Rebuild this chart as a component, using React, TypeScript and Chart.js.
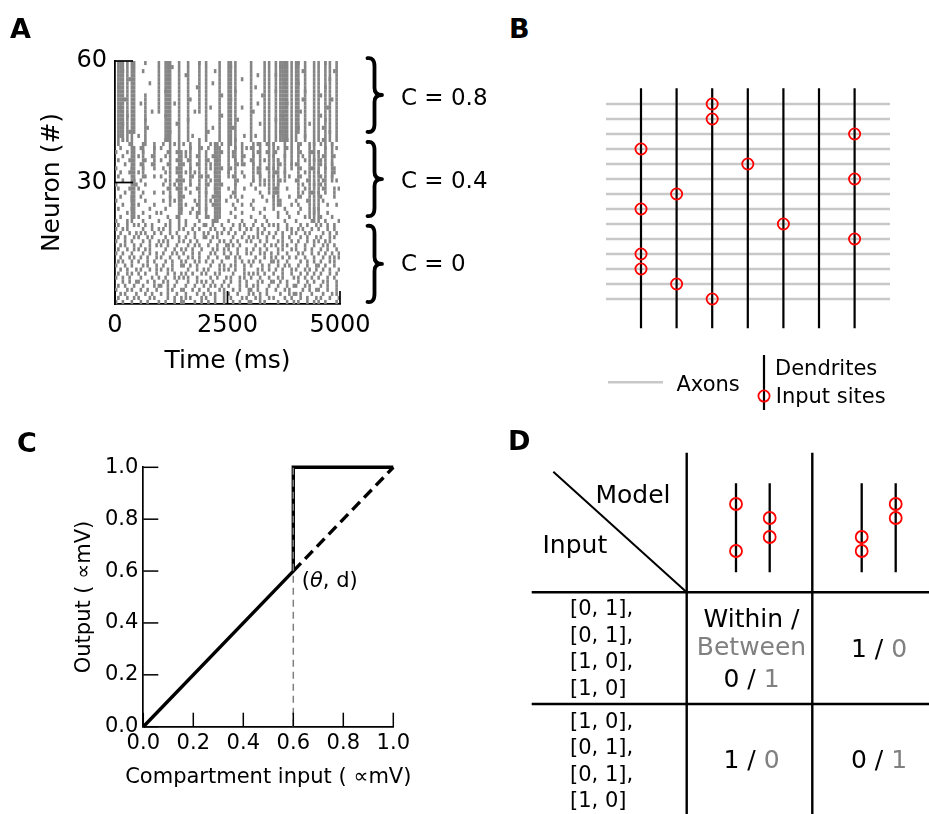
import React, { useEffect, useRef } from 'react';
import { Chart, registerables } from 'chart.js';

Chart.register(...registerables);

const FONT = "'DejaVu Sans', 'Liberation Sans', sans-serif";
Chart.defaults.font.family = FONT;
Chart.defaults.color = '#000';

const SPIKE_GRAY = '#858585';
const AXON_GRAY = '#c8c8c8';
const SITE_RED = '#ff0000';
const TEXT_GRAY = '#808080';

// ---------------- Panel A : raster ----------------
const timeTicks = [0, 2500, 5000];
const neuronTicks = [30, 60];
const timeMax = 5000;
const neuronMax = 60;
const binMs = 50;
const groupNames = ['C = 0', 'C = 0.4', 'C = 0.8'];
const groupBraceSpans = [[0.5, 19.3], [21.7, 40.0], [42.5, 60.7]];
const groupLabelBaselines = [8.2, 28.6, 49.1];

// correlated events: [time bin, first neuron, last neuron]
const stripesC04 = [
  [7, 20, 39], [8, 21, 38], [12, 31, 39], [17, 33, 39], [24, 25, 39], [28, 20, 39], [29, 22, 37],
  [33, 29, 39], [37, 22, 39], [40, 21, 36], [44, 20, 39], [45, 20, 39], [46, 23, 38], [50, 31, 39],
  [53, 26, 39], [56, 34, 39], [61, 30, 39], [64, 29, 39], [68, 28, 39], [70, 23, 39], [72, 24, 35],
  [75, 30, 39], [78, 33, 39], [81, 26, 39], [86, 21, 39], [88, 20, 39], [90, 20, 37], [93, 27, 39],
  [96, 30, 39],
];
const stripesC08 = [
  [1, 40, 59], [2, 41, 59], [3, 40, 59], [5, 40, 59], [7, 40, 59], [8, 42, 59], [13, 40, 50], [19, 47, 59],
  [22, 40, 59], [23, 40, 59], [24, 40, 59], [28, 40, 59], [32, 40, 59], [37, 47, 59], [40, 40, 59],
  [46, 40, 59], [50, 40, 59], [51, 40, 59], [53, 40, 59], [60, 40, 59], [66, 40, 59], [68, 40, 59],
  [71, 40, 59], [73, 40, 59], [74, 40, 59], [75, 40, 59], [76, 40, 59], [78, 40, 59], [80, 40, 59],
  [81, 42, 59], [84, 40, 59], [88, 40, 59], [90, 40, 59], [93, 40, 59], [95, 40, 59], [98, 40, 59],
];
// individual spikes, one string per neuron (0 = bottom), one char per 50 ms bin
const spikeRows = [
  "|..|...|.. .|..|....| ..|...|..| |....|..|. .|..|...|. ..|..|...| |...|.|... ..|...|..| .|...|..|. |..|....|.",
  ".|...|..|. |....|.|.. ...|..|..| .|.|....|. |...|...|. .|....|.|. ..|.|...|. |....|..|. ..|..|...| .|...|...|",
  "..|.|....| ...|..|... |..|...|.. .|....|..| ..|.|...|. |...|....| .|..|..|.. ...|...|.| |.|....|.. ..|...|.|.",
  "|....|.|.. .|..|...|. ...|.|...| |...|..|.. .|....|.|. ..|..|...| |..|...|.. .|...|.|.. ...|..|..| |...|...|.",
  ".|..|...|. ..|....|.| |..|..|... .|...|...| ..|.|..|.. |....|..|. .|.|....|. ..|...|..| |...|.|... .|..|...|.",
  "...|..|..| |...|..|.. .|.|...|.. ..|...|.|. |..|....|. .|...|..|. ...|.|...| |..|..|... .|...|..|. ..|.|...|.",
  "|..|..|... .|....|..| ..|...|.|. |.|...|... ..|..|...| .|...|.|.. |...|...|. ..|.|....| .|..|..|.. |...|..|..",
  ".|...|.|.. |..|....|. ...|..|..| .|..|...|. |...|.|... ..|....|.| .|.|..|... |...|...|. ..|..|..|. .|...|..|.",
  "..|..|...| .|...|..|. |..|.|.... ..|...|..| .|....|.|. |..|...|.. ...|.|..|. .|..|...|. |...|.|..| ..|..|...|",
  "|...|..|.. ..|.|...|. .|...|...| |..|..|... ..|...|.|. .|.|...|.. |....|..|. ..|..|.|.. .|...|...| |..|...|..",
  ".|.|...|.. |...|..|.. ..|..|...| .|...|.|.. |..|...|.. ...|..|..| .|..|....| |.|...|... ..|..|..|. .|...|.|..",
  "..|...|.|. .|..|...|. |...|...|. ..|.|..|.. .|...|...| |..|.|.... ..|...|..| .|..|..|.. |...|...|. ..|..|.|.|",
  "|..|...|.. ..|..|..|. .|...|.|.. |...|..|.. ..|.|...|. .|..|...|. |...|.|..| ..|...|... .|.|...|.. |..|..|..|",
  ".|...|..|. |..|.|.... ..|...|..| .|..|...|. ...|.|..|. |...|...|. .|..|..|.. ..|.|...|. |...|..|.. .|..|...|.",
  "..|.|...|. .|...|..|. |..|...|.. ..|..|.|.. .|...|...| |.|..|.... ..|...|..| .|..|.|... |...|...|. ..|.|..|..",
  "|...|..|.. ..|..|...| .|.|....|. |..|..|... ..|...|.|. .|..|...|. |...|..|.. ..|.|...|. .|...|..|. |..|.|....",
  ".|..|...|. |...|.|... ..|..|..|. .|...|...| |..|.|.... ..|...|..| .|.|...|.. |...|..|.. ..|..|...| .|...|.|..",
  "..|...|..| .|.|...|.. |...|..|.. ..|..|...| .|...|.|.. |..|...|.. ...|.|..|. .|..|...|. |...|.|... ..|..|..|.",
  "|..|.|.... ..|...|..| .|..|...|. |...|..|.. ..|.|...|. .|...|..|. |..|..|... ..|...|.|. .|.|...|.. |...|..|..",
  ".|...|..|. |..|..|... ..|.|...|. .|...|...| |..|...|.. ..|..|.|.. .|...|..|. |.|...|... ..|..|...| .|..|..|..",
  "|....|.... ..|......| ....|..... .|.....|.. ...|...... |.....|... ..|....|.. .....|.... |......|.. ...|.....|",
  "..|....... |....|.... ...|...|.. ......|... .|....|... ...|...... |.....|... ..|....|.. ....|..... .|....|...",
  ".....|.... ..|.....|. |......... ...|..|... ......|... .|....|... ....|..... ..|...|... .|......|. ....|.....",
  ".|.....|.. .....|.... ..|......| ....|..... |.....|... ...|...... .|....|... .....|.... ..|.....|. |.........",
  "...|...... |......|.. ....|..... .|....|... ...|...... ..|...|... |......... ...|....|. .|........ ....|...|.",
  "|......|.. ...|...... .|....|... .....|.... ..|......| ....|..... .|.....|.. ...|...... |....|.... ..|.......",
  "..|....|.. .|........ ....|...|. |......... ...|..|... .|....|... .....|.... |......|.. ..|....... .|.....|..",
  "....|..... ..|....|.. .|......|. ...|...... |....|.... ..|....... ....|...|. .|........ ...|...|.. |......|..",
  ".|....|... |......... ...|...|.. .|....|... ....|..... |......|.. ..|....... .|....|... ....|..... ..|....|.|",
  "|........| ...|...... .|....|... ...|...... .|.....|.. ...|...... |.....|... ..|....... ...|....|. .|........",
  "...|....|. .|........ ..|....|.. |......... ..|...|... ....|..... .|....|... ...|...... |....|.... ..|.....|.",
  ".|........ ...|...|.. |......... ....|...|. .|........ ..|....|.. ....|..... |......|.. ..|....... .|....|...",
  "..|...|... |......... ..|....|.. .|...|.... ....|..... |.....|... ...|...... .|...|.... ....|..... |......|..",
  "|......|.. ..|....... .|.....|.. ...|...... ..|....|.. .|........ ...|...|.. |......... ..|....|.. ...|...|..",
  "....|..... .|....|... ...|...... |.....|... ..|....... ....|..|.. .|........ ...|....|. |......... .|....|...",
  ".|....|... ...|...... |......|.. ..|....... .|...|.... ...|...... |.....|... ..|....... ....|...|. .|........",
  "...|...... |.....|... ..|....... .|....|... ...|...... ..|....|.. .|........ |....|.... ...|...... ..|....|..",
  "|....|.... ..|....... ...|...|.. .|........ |......|.. ..|....... ...|...|.. .|........ ..|....|.. |.........",
  "..|....... .|.....|.. |......... ...|....|. .|........ ...|....|. |......... ..|...|... .|........ ...|....|.",
  ".|....|... ...|...... .|....|... |......... ..|....|.. .|........ ...|...|.. |......... ..|.....|. .|....|...",
  "...|...... .......... ..|....... .......|.. .......... ...|...... .......... ......|... .......... ..|.......",
  ".......... |......... .......... ....|..... .......... .......|.. ..|....... .......... ....|..... ..........",
  "......|... .......... ....|..... .......... .|........ .......... .......... ...|...... .......... .....|....",
  ".......... ....|..... .......... .......... ...|...... ..|....... .......... .......... .|........ ..|.......",
  "...|...... .......... .......|.. .......... .......... .......... ....|..... .......... ......|... ..........",
  ".......... ...|...... .......... ..|....... .......... ....|..... .......... .|........ .......... ...|......",
  ".....|.... .......... ..|....... .......... .......|.. .......... .......... ....|..... .......... .|........",
  ".......... ......|... .......... .....|.... .......... .......... .|........ .......... ..|....... ..........",
  "..|....... .......... .......... .......... ..|....... ......|... .......... .......... .......... ....|.....",
  ".......... .|........ ......|... .......... .......... .......... ...|...... ......|... .......... ..........",
  "....|..... .......... .......... ...|...... .......... .|........ .......... .......... ...|...... ......|...",
  ".......... ...|...... .......... .......... .......|.. .......... .....|.... .......... .......... .|........",
  ".......... .......... ..|....... .......... .......... ...|...... .......... .|........ ....|..... ..........",
  ".|........ .......... .......... ......|... .......... .......... ..|....... .......... .......... ...|......",
  ".......... .....|.... .......... .......... ...|...... .......... .......... .....|.... .|........ ..........",
  "......|... .......... ...|...... .......... .......... ......|... .......... .......... .......... .....|....",
  ".......... .......... .......... .|........ .......... .......... ...|...... .|........ .......... ..........",
  "...|...... ..|....... .......... .......... ....|..... .......... .......... .......... ...|...... .......|..",
  ".......... .......... .....|.... .......... .......... .|........ .......... ...|...... .......... ..........",
  ".......... ...|...... .......... .......|.. .......... .......... .......... .......... .|........ ...|......",
];

// ---------------- Panel B : wiring schematic ----------------
const axonCount = 14;
const dendriteCount = 7;
// input sites: [dendrite index, axon index]
const inputSites = [
  [0, 3], [0, 7], [0, 10], [0, 11], [1, 6], [1, 12], [2, 0], [2, 1], [2, 13], [3, 4], [4, 8], [6, 2], [6, 5], [6, 9],
];
const legendLabels = ['Axons', 'Dendrites', 'Input sites'];

// ---------------- Panel C : compartment transfer ----------------
const transferTicks = [0, 0.2, 0.4, 0.6, 0.8, 1.0];
const spikingX = [0, 0.6, 0.6, 1.0];
const spikingY = [0, 0.6, 1.0, 1.0];
const linearX = [0.6, 1.0];
const linearY = [0.6, 1.0];
const thetaX = [0.6, 0.6];
const thetaY = [0, 1.0];
const thetaLabelPos = [0.634, 0.5385];
const xTitleC = 'Compartment input ( ∝mV)';
const yTitleC = 'Output ( ∝mV)';

// ---------------- Panel D : table ----------------
const modelSites = [
  [[0, 3], [1, 2]],
  [[2, 3], [0, 1]],
];
const inputPatterns = [
  ['[0, 1],', '[0, 1],', '[1, 0],', '[1, 0]'],
  ['[1, 0],', '[0, 1],', '[0, 1],', '[1, 0]'],
];
const withinCounts = [[0, 1], [1, 0]];
const betweenCounts = [[1, 0], [0, 1]];

// ---------------- helpers ----------------
const inTicks = {
  id: 'inTicks',
  afterDraw(chart: any, _args: any, opts: any) {
    if (!opts || !opts.axes) return;
    const ctx = chart.ctx;
    ctx.save();
    ctx.strokeStyle = '#000';
    ctx.lineWidth = opts.width || 1.5;
    Object.entries(opts.axes).forEach(([id, len]: any) => {
      const s = chart.scales[id];
      s.ticks.forEach((t: any) => {
        const p = s.getPixelForValue(t.value);
        ctx.beginPath();
        if (s.isHorizontal()) {
          ctx.moveTo(p, s.top);
          ctx.lineTo(p, s.top - len);
        } else {
          ctx.moveTo(s.right, p);
          ctx.lineTo(s.right + len, p);
        }
        ctx.stroke();
      });
    });
    ctx.restore();
  },
};

function setTicks(values: number[]) {
  return (s: any) => {
    s.ticks = values.map((v) => ({ value: v }));
  };
}

function lineSet(xs: number[], ys: number[], color: string, width: number, extra: any = {}) {
  return {
    data: xs.map((x, i) => ({ x, y: ys[i] })),
    showLine: true,
    pointRadius: 0,
    borderColor: color,
    borderWidth: width,
    fill: false,
    tension: 0,
    clip: false,
    ...extra,
  };
}

const baseOptions = {
  responsive: false,
  animation: false,
  events: [],
};

function hiddenScale(min: number, max: number, reverse = false) {
  return { type: 'linear', min, max, reverse, display: false };
}

// ---------------- chart configs ----------------
function configA() {
  const pts: any[] = [];
  spikeRows.forEach((row, n) => {
    const s = row.replace(/ /g, '');
    for (let i = 0; i < s.length; i++) if (s[i] === '|') pts.push({ x: i * binMs + binMs / 2, y: n + 0.5 });
  });
  [...stripesC04, ...stripesC08].forEach(([b, a, z]) => {
    for (let n = a; n <= z; n++) pts.push({ x: b * binMs + binMs / 2, y: n + 0.5 });
  });
  const braces = {
    id: 'braces',
    afterDraw(chart: any) {
      const { ctx, chartArea } = chart;
      const y = chart.scales.y;
      const x0 = chartArea.right + 27.5;
      const xs = chartArea.right + 34.5;
      const xt = chartArea.right + 42;
      ctx.save();
      ctx.strokeStyle = '#000';
      ctx.lineWidth = 3.8;
      ctx.lineCap = 'round';
      ctx.lineJoin = 'round';
      groupBraceSpans.forEach(([lo, hi], i) => {
        const top = y.getPixelForValue(hi);
        const bot = y.getPixelForValue(lo);
        const mid = (top + bot) / 2;
        ctx.beginPath();
        ctx.moveTo(x0, top);
        ctx.quadraticCurveTo(xs, top - 1, xs, top + 8);
        ctx.lineTo(xs, mid - 7);
        ctx.quadraticCurveTo(xs, mid, xt, mid);
        ctx.moveTo(xt, mid);
        ctx.quadraticCurveTo(xs, mid, xs, mid + 7);
        ctx.lineTo(xs, bot - 8);
        ctx.quadraticCurveTo(xs, bot + 1, x0, bot);
        ctx.stroke();
        ctx.fillStyle = '#000';
        ctx.font = `23px ${FONT}`;
        ctx.textAlign = 'left';
        ctx.textBaseline = 'alphabetic';
        ctx.fillText(groupNames[i], chartArea.right + 61, y.getPixelForValue(groupLabelBaselines[i]));
      });
      ctx.restore();
    },
  };
  return {
    type: 'scatter',
    data: {
      datasets: [
        {
          data: pts,
          pointStyle: 'line',
          pointRotation: 90,
          pointRadius: 2.05,
          pointHoverRadius: 2.05,
          pointBorderWidth: 2.6,
          borderWidth: 2.6,
          pointBorderColor: SPIKE_GRAY,
          borderColor: SPIKE_GRAY,
          pointBackgroundColor: SPIKE_GRAY,
        },
      ],
    },
    options: {
      ...baseOptions,
      layout: { autoPadding: false, padding: { left: 20, top: 61, right: 160, bottom: 1 } },
      plugins: { legend: { display: false }, tooltip: { enabled: false }, inTicks: { axes: { x: 13, y: 18 }, width: 1.7 } },
      scales: {
        x: {
          type: 'linear', min: 0, max: timeMax,
          afterBuildTicks: setTicks(timeTicks),
          afterFit: (s: any) => { s.height = 80; },
          grid: { display: false, drawTicks: false },
          border: { display: true, color: '#000', width: 1.8 },
          ticks: { color: '#000', font: { size: 24 }, padding: 7, maxRotation: 0, autoSkip: false, callback: (v: any) => String(v) },
          title: { display: true, text: 'Time (ms)', color: '#000', font: { size: 25 }, padding: { top: 0, bottom: 7.6 } },
        },
        y: {
          type: 'linear', min: 0, max: neuronMax,
          afterBuildTicks: setTicks(neuronTicks),
          afterFit: (s: any) => { s.width = 95; },
          grid: { display: false, drawTicks: false },
          border: { display: true, color: '#000', width: 1.8 },
          ticks: { color: '#000', font: { size: 24 }, padding: 8, autoSkip: false, callback: (v: any) => String(v) },
          title: { display: true, text: 'Neuron (#)', color: '#000', font: { size: 25 }, padding: { top: 17, bottom: 0 } },
        },
      },
    },
    plugins: [inTicks, braces],
  };
}

function configB() {
  const ds: any[] = [];
  ds.push({
    data: inputSites.map(([d, a]) => ({ x: d, y: a })),
    pointStyle: 'circle', pointRadius: 5.6, pointBorderWidth: 1.8,
    pointBorderColor: SITE_RED, pointBackgroundColor: 'rgba(0,0,0,0)', order: 0,
  });
  // legend marks
  ds.push({ data: [{ x: 3.455, y: 19.47 }], pointStyle: 'circle', pointRadius: 5.6, pointBorderWidth: 1.8,
    pointBorderColor: SITE_RED, pointBackgroundColor: 'rgba(0,0,0,0)', order: 0 });
  ds.push({ ...lineSet([3.455, 3.455], [16.73, 20.4], '#000', 2.2), order: 1 });
  ds.push({ ...lineSet([-0.927, 0.618], [18.55, 18.55], AXON_GRAY, 2.6), order: 2 });
  for (let d = 0; d < dendriteCount; d++) ds.push({ ...lineSet([d, d], [-1.05, 14.95], '#000', 2.2), order: 1 });
  for (let a = 0; a < axonCount; a++) ds.push({ ...lineSet([-0.983, 6.994], [a, a], AXON_GRAY, 2.6), order: 2 });
  const legendText = {
    id: 'legendText',
    afterDraw(chart: any) {
      const { ctx } = chart;
      const { x, y } = chart.scales;
      ctx.save();
      ctx.fillStyle = '#000';
      ctx.font = `21px ${FONT}`;
      ctx.textAlign = 'left';
      ctx.textBaseline = 'alphabetic';
      ctx.fillText(legendLabels[0], x.getPixelForValue(0.997), y.getPixelForValue(19.11));
      ctx.fillText(legendLabels[1], x.getPixelForValue(3.764), y.getPixelForValue(18.07));
      ctx.fillText(legendLabels[2], x.getPixelForValue(3.784), y.getPixelForValue(19.93));
      ctx.restore();
    },
  };
  return {
    type: 'scatter',
    data: { datasets: ds },
    options: {
      ...baseOptions,
      layout: { autoPadding: false, padding: 0 },
      plugins: { legend: { display: false }, tooltip: { enabled: false } },
      scales: { x: hiddenScale(-1.4326, 7.556), y: hiddenScale(-1.6, 21.067, true) },
    },
    plugins: [legendText],
  };
}

function configC() {
  const annot = {
    id: 'thetaLabel',
    afterDraw(chart: any) {
      const { ctx } = chart;
      const { x, y } = chart.scales;
      let px = x.getPixelForValue(thetaLabelPos[0]);
      const py = y.getPixelForValue(thetaLabelPos[1]);
      ctx.save();
      ctx.fillStyle = '#000';
      ctx.textAlign = 'left';
      ctx.textBaseline = 'alphabetic';
      const parts: [string, string][] = [['(', ''], ['θ', 'italic '], [', d)', '']];
      parts.forEach(([t, st]) => {
        ctx.font = `${st}21px ${FONT}`;
        ctx.fillText(t, px, py);
        px += ctx.measureText(t).width;
      });
      // x-axis title (drawn unconstrained so it is not squeezed)
      ctx.font = `21px ${FONT}`;
      ctx.textAlign = 'center';
      ctx.fillText(xTitleC, (x.left + x.right) / 2, x.bottom - 6);
      ctx.restore();
    },
  };
  const tickFmt = (v: any) => Number(v).toFixed(1);
  return {
    type: 'scatter',
    data: {
      datasets: [
        lineSet(thetaX, thetaY, TEXT_GRAY, 1.5, { borderDash: [7, 5] }),
        lineSet(spikingX, spikingY, '#000', 3.4),
        lineSet(linearX, linearY, '#000', 3.4, { borderDash: [11, 6] }),
      ],
    },
    options: {
      ...baseOptions,
      layout: { autoPadding: false, padding: { left: 60, top: 47.3, right: 36.7, bottom: 11.3 } },
      plugins: { legend: { display: false }, tooltip: { enabled: false }, inTicks: { axes: { x: 14, y: 15 }, width: 1.5 } },
      scales: {
        x: {
          type: 'linear', min: 0, max: 1,
          afterBuildTicks: setTicks(transferTicks),
          afterFit: (s: any) => { s.height = 62; },
          grid: { display: false, drawTicks: false },
          border: { display: true, color: '#000', width: 1.7 },
          ticks: { color: '#000', font: { size: 21 }, padding: 4, maxRotation: 0, autoSkip: false, callback: tickFmt },
          title: { display: false },
        },
        y: {
          type: 'linear', min: 0, max: 1,
          afterBuildTicks: setTicks(transferTicks),
          afterFit: (s: any) => { s.width = 83.3; },
          grid: { display: false, drawTicks: false },
          border: { display: true, color: '#000', width: 1.7 },
          ticks: { color: '#000', font: { size: 21 }, padding: 5, autoSkip: false, callback: tickFmt },
          title: { display: true, text: yTitleC, color: '#000', font: { size: 21 }, padding: { top: 12.4, bottom: 0 } },
        },
      },
    },
    plugins: [inTicks, annot],
  };
}

function configD() {
  // table geometry in panel units (x: 0..419, y: 0..384)
  const colEdges = [21.7, 176.7, 302.3, 419];
  const rowEdges = [22.7, 162.3, 274, 384];
  const dendriteX = [[226, 259.7], [351.7, 385.7]];
  const dendriteSpan = [53.3, 142.3];
  const siteLevels = [74, 88, 107, 121];
  const cellX = [241.5, 369];
  const cellBaseline = [226.7, 338.3];
  const rowLabelBaseline = [185, 297.7];

  const ds: any[] = [];
  const sites: any[] = [];
  modelSites.forEach((m, mi) => m.forEach((lv, di) => lv.forEach((l) => sites.push({ x: dendriteX[mi][di], y: siteLevels[l] }))));
  ds.push({ data: sites, pointStyle: 'circle', pointRadius: 6, pointBorderWidth: 1.8,
    pointBorderColor: SITE_RED, pointBackgroundColor: 'rgba(0,0,0,0)', order: 0 });
  dendriteX.forEach((pair) => pair.forEach((x) => ds.push({ ...lineSet([x, x], dendriteSpan, '#000', 2.3), order: 1 })));
  [colEdges[1], colEdges[2]].forEach((x) => ds.push({ ...lineSet([x, x], [rowEdges[0], rowEdges[3]], '#000', 2.4), order: 1 }));
  [rowEdges[1], rowEdges[2]].forEach((y) => ds.push({ ...lineSet([colEdges[0], colEdges[3]], [y, y], '#000', 2.4), order: 1 }));
  ds.push({ ...lineSet([43.3, colEdges[1]], [41.7, rowEdges[1]], '#000', 2), order: 1 });

  const tableText = {
    id: 'tableText',
    afterDraw(chart: any) {
      const { ctx } = chart;
      const { x, y } = chart.scales;
      const X = (v: number) => x.getPixelForValue(v);
      const Y = (v: number) => y.getPixelForValue(v);
      ctx.save();
      ctx.textBaseline = 'alphabetic';
      ctx.fillStyle = '#000';
      ctx.textAlign = 'left';
      ctx.font = `25px ${FONT}`;
      ctx.fillText('Model', X(85.5), Y(72.5));
      ctx.fillText('Input', X(32.5), Y(123));
      ctx.font = `21px ${FONT}`;
      inputPatterns.forEach((lines, r) => lines.forEach((t, k) => ctx.fillText(t, X(60), Y(rowLabelBaseline[r] + k * 26.5))));
      const drawMixed = (segs: [string, string][], cx: number, by: number) => {
        ctx.font = `25px ${FONT}`;
        const w = segs.reduce((a, [t]) => a + ctx.measureText(t).width, 0);
        let px = X(cx) - w / 2;
        segs.forEach(([t, c]) => {
          ctx.fillStyle = c;
          ctx.fillText(t, px, Y(by));
          px += ctx.measureText(t).width;
        });
      };
      withinCounts.forEach((row, r) => row.forEach((wc, m) => {
        const segs: [string, string][] = [[`${wc} / `, '#000'], [`${betweenCounts[r][m]}`, TEXT_GRAY]];
        if (r === 0 && m === 0) {
          drawMixed([['Within /', '#000']], cellX[m], cellBaseline[r] - 30);
          drawMixed([['Between', TEXT_GRAY]], cellX[m], cellBaseline[r] - 1.5);
          drawMixed(segs, cellX[m], cellBaseline[r] + 30.6);
        } else {
          drawMixed(segs, cellX[m], cellBaseline[r]);
        }
      }));
      ctx.restore();
    },
  };
  return {
    type: 'scatter',
    data: { datasets: ds },
    options: {
      ...baseOptions,
      layout: { autoPadding: false, padding: 0 },
      plugins: { legend: { display: false }, tooltip: { enabled: false } },
      scales: { x: hiddenScale(0, 419), y: hiddenScale(0, 384, true) },
    },
    plugins: [tableText],
  };
}

function ChartBox({ left, top, width, height, make }: any) {
  const ref = useRef<HTMLCanvasElement>(null);
  useEffect(() => {
    const chart = new Chart(ref.current as any, make());
    return () => chart.destroy();
  }, []);
  return (
    <div style={{ position: 'absolute', left, top, width, height }}>
      <canvas ref={ref} width={width} height={height} style={{ display: 'block', width, height }} />
    </div>
  );
}

function PanelLetter({ text, left, baseline }: any) {
  const fs = 27;
  return (
    <div style={{ position: 'absolute', left, top: baseline - 0.846 * fs, fontFamily: FONT, fontWeight: 'bold', fontSize: fs, lineHeight: `${fs}px`, color: '#000' }}>
      {text}
    </div>
  );
}

export default function App() {
  return (
    <div style={{ position: 'absolute', left: 0, top: 0, width: 929, height: 814, background: '#fff', overflow: 'hidden' }}>
      <ChartBox left={0} top={0} width={500} height={385} make={configA} />
      <ChartBox left={590} top={80} width={320} height={340} make={configB} />
      <ChartBox left={0} top={420} width={430} height={380} make={configC} />
      <ChartBox left={510} top={430} width={419} height={384} make={configD} />
      <PanelLetter text="A" left={10} baseline={37.5} />
      <PanelLetter text="B" left={509} baseline={38} />
      <PanelLetter text="C" left={17} baseline={452} />
      <PanelLetter text="D" left={508} baseline={450} />
    </div>
  );
}
